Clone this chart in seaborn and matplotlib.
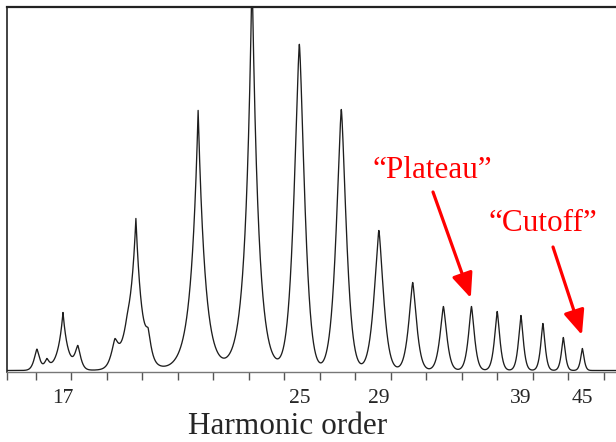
import numpy as np
import pandas as pd
import matplotlib
matplotlib.use("Agg")
import matplotlib.pyplot as plt
import seaborn as sns

# ---- data (arbitrary intensity units) ----
harmonic_orders = [17, 19, 21, 23, 25, 27, 29, 31, 33, 35, 37, 39, 41, 43, 45]
peak_heights = [58, 148, 260, 400, 326, 261, 140, 88, 64, 64, 59, 55, 47, 33, 22]
peak_fwhm = [0.18, 0.27, 0.34, 0.36, 0.52, 0.56, 0.58, 0.54, 0.52, 0.50, 0.48, 0.47, 0.46, 0.44, 0.42]
peak_shape = [1.0, 1.0, 1.0, 1.0, 1.4, 1.4, 1.4, 1.4, 1.4, 1.4, 1.4, 1.4, 1.4, 1.4, 1.4]
side_orders = [16.36, 16.60, 17.38, 18.39, 18.75, 19.37]
side_heights = [21, 9, 22, 24, 16, 20]
side_fwhm = [0.14, 0.12, 0.16, 0.22, 0.30, 0.18]
side_shape = [1.4, 1.4, 1.4, 1.4, 1.4, 1.4]
background = 1.5
labelled_orders = [17, 25, 29, 39, 45]
tick_labels = ["17", "25", "29", "39", "45"]
annotations = ["\u201cPlateau\u201d", "\u201cCutoff\u201d"]
annotated_orders = [35, 45]

# ---- build spectrum from the peak list ----
q = np.linspace(15.671, 48.887, 5000)
spectrum = np.full_like(q, background)
for q0, h, fw, p in zip(harmonic_orders + side_orders,
                        peak_heights + side_heights,
                        peak_fwhm + side_fwhm,
                        peak_shape + side_shape):
    a = (fw / 2) / np.log(2) ** (1 / p)
    spectrum += h * np.exp(-(np.abs(q - q0) / a) ** p)
df = pd.DataFrame({"order": q, "intensity": spectrum})

sns.set_style("white")
plt.rcParams["font.family"] = ["Liberation Serif", "DejaVu Serif"]

W, H = 616, 442
fig = plt.figure(figsize=(W / 100, H / 100), dpi=100)
ax = fig.add_axes([7 / W, (H - 372) / H, 1 - 7 / W, (372 - 7) / H])

def fwd(x):
    x = np.asarray(x, dtype=float)
    return -1.0 / np.sqrt(np.clip(x, 1e-6, None))

def inv(u):
    u = np.asarray(u, dtype=float)
    return 1.0 / np.clip(u, None, -1e-6) ** 2

ax.set_xscale("function", functions=(fwd, inv))
sns.lineplot(data=df, x="order", y="intensity", ax=ax, color="#1e1e1e", lw=0.95)
ax.set_xlim(15.671, 48.887)
ax.set_ylim(0, 365)

# evenly spaced unlabeled ticks (in detector coordinate)
u_ticks = 0.247395 - np.arange(17) * 0.0063883
minor = list(1.0 / u_ticks ** 2) + [15.671]
ax.set_xticks(minor, minor=True)
ax.set_xticks(labelled_orders)
ax.set_xticklabels(tick_labels, fontsize=15.5)
ax.tick_params(axis="x", which="major", length=0, pad=12)
ax.tick_params(axis="x", which="minor", length=6, width=1, color="#555555", bottom=True)
ax.set_yticks([])
ax.set_xlabel("")
ax.set_ylabel("")

ax.spines["right"].set_visible(False)
ax.spines["left"].set_color("#222222")
ax.spines["left"].set_linewidth(1.2)
ax.spines["top"].set_color("#222222")
ax.spines["top"].set_linewidth(1.6)
ax.spines["bottom"].set_color("#777777")
ax.spines["bottom"].set_linewidth(1.0)

fig.text(288 / W, 0.5 / H, "Harmonic order", fontsize=22.5, ha="center", va="bottom")

# annotations
red = "#ff0000"
fig.text(372 / W, (H - 178) / H, annotations[0], fontsize=22.5, color=red, ha="left", va="baseline")
fig.text(488 / W, (H - 231) / H, annotations[1], fontsize=22.5, color=red, ha="left", va="baseline")
arrow_starts = [(433, H - 192), (553, H - 247)]
tip_offsets = [10, 15]
for order, start, off in zip(annotated_orders, arrow_starts, tip_offsets):
    h = peak_heights[harmonic_orders.index(order)]
    ax.annotate("", xy=(order - 0.05, h + off), xycoords="data",
                xytext=start, textcoords="figure pixels",
                arrowprops=dict(arrowstyle="-|>,head_length=0.75,head_width=0.32",
                                mutation_scale=20, lw=2.3, color=red,
                                shrinkA=0, shrinkB=0))

fig.savefig("out.png", dpi=100)
